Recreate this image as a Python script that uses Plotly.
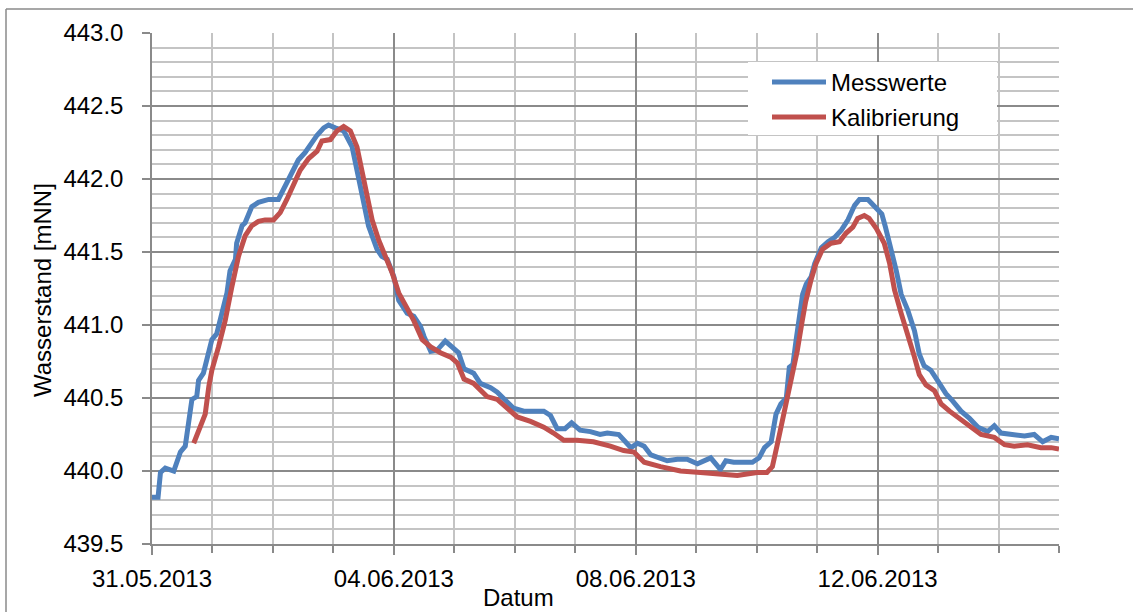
import pandas as pd
import plotly.graph_objects as go

# Wasserstand time series, days after 31.05.2013 00:00
start = pd.Timestamp("2013-05-31")

mess_days = [0.00, 0.10, 0.14, 0.22, 0.36, 0.47, 0.55, 0.61, 0.66, 0.74, 0.77, 0.85, 0.91, 0.99,
             1.07, 1.16, 1.24, 1.29, 1.38, 1.40, 1.49, 1.54, 1.65, 1.76, 1.93, 2.09, 2.20, 2.31,
             2.42, 2.53, 2.64, 2.73, 2.84, 2.92, 3.03, 3.17, 3.31, 3.42, 3.50, 3.58, 3.67, 3.72,
             3.80, 3.89, 4.00, 4.08, 4.22, 4.33, 4.44, 4.50, 4.61, 4.72, 4.85, 4.96, 5.07, 5.16,
             5.32, 5.43, 5.60, 5.71, 5.84, 5.98, 6.15, 6.31, 6.48, 6.59, 6.70, 6.83, 6.94, 7.08,
             7.25, 7.41, 7.53, 7.72, 7.83, 7.92, 8.03, 8.14, 8.25, 8.39, 8.52, 8.69, 8.85, 9.02,
             9.13, 9.24, 9.32, 9.40, 9.49, 9.62, 9.79, 9.93, 10.04, 10.13, 10.24, 10.32, 10.40,
             10.49, 10.54, 10.60, 10.65, 10.71, 10.76, 10.82, 10.90, 10.96, 11.07, 11.18, 11.29,
             11.40, 11.51, 11.62, 11.70, 11.84, 11.95, 12.07, 12.13, 12.22, 12.31, 12.39, 12.50,
             12.61, 12.69, 12.77, 12.88, 12.99, 13.13, 13.24, 13.38, 13.52, 13.66, 13.82, 13.93,
             14.04, 14.26, 14.43, 14.59, 14.73, 14.87, 15.00]
mess_values = [439.82, 439.82, 439.99, 440.02, 440.00, 440.13, 440.17, 440.35, 440.49, 440.51,
               440.62, 440.67, 440.78, 440.90, 440.94, 441.08, 441.22, 441.37, 441.45, 441.56,
               441.68, 441.70, 441.81, 441.84, 441.86, 441.86, 441.95, 442.04, 442.13, 442.18,
               442.25, 442.30, 442.35, 442.37, 442.35, 442.33, 442.22, 442.02, 441.84, 441.68,
               441.58, 441.52, 441.47, 441.45, 441.33, 441.17, 441.08, 441.06, 440.99, 440.92,
               440.82, 440.83, 440.89, 440.85, 440.81, 440.70, 440.67, 440.60, 440.57, 440.54,
               440.49, 440.43, 440.41, 440.41, 440.41, 440.38, 440.29, 440.29, 440.33, 440.28,
               440.27, 440.25, 440.26, 440.25, 440.20, 440.16, 440.19, 440.17, 440.11, 440.09,
               440.07, 440.08, 440.08, 440.05, 440.07, 440.09, 440.05, 440.01, 440.07, 440.06,
               440.06, 440.06, 440.09, 440.16, 440.20, 440.39, 440.46, 440.50, 440.71, 440.73,
               440.89, 441.08, 441.21, 441.28, 441.33, 441.42, 441.53, 441.57, 441.60, 441.65,
               441.72, 441.82, 441.86, 441.86, 441.81, 441.76, 441.67, 441.53, 441.37, 441.21,
               441.10, 440.96, 440.80, 440.72, 440.69, 440.62, 440.53, 440.48, 440.41, 440.36,
               440.30, 440.27, 440.31, 440.26, 440.25, 440.24, 440.25, 440.20, 440.23, 440.22]

kal_days = [0.69, 0.77, 0.88, 0.94, 0.99, 1.10, 1.21, 1.32, 1.43, 1.54, 1.65, 1.76, 1.87, 2.01,
            2.12, 2.23, 2.34, 2.45, 2.59, 2.73, 2.81, 2.95, 3.06, 3.17, 3.28, 3.39, 3.47, 3.55,
            3.64, 3.75, 3.86, 3.97, 4.08, 4.17, 4.33, 4.47, 4.61, 4.77, 4.94, 5.05, 5.16, 5.32,
            5.43, 5.54, 5.71, 5.87, 6.04, 6.26, 6.48, 6.64, 6.81, 7.03, 7.30, 7.58, 7.80, 7.97,
            8.14, 8.41, 8.74, 9.07, 9.40, 9.68, 9.84, 10.01, 10.17, 10.26, 10.34, 10.42, 10.50,
            10.59, 10.67, 10.75, 10.81, 10.90, 10.98, 11.09, 11.23, 11.37, 11.48, 11.59, 11.67,
            11.78, 11.86, 11.98, 12.11, 12.20, 12.28, 12.39, 12.50, 12.61, 12.69, 12.80, 12.94,
            13.05, 13.19, 13.38, 13.55, 13.71, 13.93, 14.10, 14.26, 14.48, 14.70, 14.87, 15.00]
kal_values = [440.19, 440.28, 440.39, 440.58, 440.69, 440.85, 441.03, 441.26, 441.47, 441.61,
              441.68, 441.71, 441.72, 441.72, 441.77, 441.86, 441.97, 442.06, 442.14, 442.19,
              442.26, 442.27, 442.33, 442.36, 442.33, 442.22, 442.06, 441.88, 441.72, 441.58,
              441.47, 441.36, 441.22, 441.15, 441.03, 440.90, 440.85, 440.81, 440.78, 440.74,
              440.63, 440.60, 440.55, 440.51, 440.49, 440.43, 440.37, 440.34, 440.30, 440.26,
              440.21, 440.21, 440.20, 440.17, 440.14, 440.13, 440.06, 440.03, 440.00, 439.99,
              439.98, 439.97, 439.98, 439.99, 439.99, 440.03, 440.18, 440.34, 440.48, 440.64,
              440.82, 441.02, 441.16, 441.31, 441.42, 441.52, 441.56, 441.57, 441.63, 441.67,
              441.73, 441.75, 441.73, 441.66, 441.56, 441.42, 441.24, 441.08, 440.94, 440.78,
              440.66, 440.59, 440.55, 440.46, 440.41, 440.35, 440.30, 440.25, 440.23, 440.18,
              440.17, 440.18, 440.16, 440.16, 440.15]

series_names = ["Messwerte", "Kalibrierung"]
series_colors = ["#4F81BD", "#C0504D"]

x_range = ["2013-05-31", "2013-06-15"]
y_range = [439.5, 443.0]

W, H = 1133, 612
L, R, T, B = 152, 74, 33, 68
PW, PH = W - L - R, H - T - B


def px(xp):
    return (xp - L) / PW


def py(yp):
    return (H - B - yp) / PH


def to_time(days):
    return start + pd.to_timedelta(days, unit="D")


FONT = "Liberation Sans, Arial, sans-serif"
FS = 24
MAJOR = "#8a8a8a"
MINOR = "#c4c4c4"

fig = go.Figure()
fig.add_trace(go.Scatter(x=to_time(mess_days), y=mess_values, mode="lines",
                         name=series_names[0],
                         line=dict(color=series_colors[0], width=5, shape="linear")))
fig.add_trace(go.Scatter(x=to_time(kal_days), y=kal_values, mode="lines",
                         name=series_names[1],
                         line=dict(color=series_colors[1], width=5, shape="linear")))

fig.update_xaxes(
    type="date", range=x_range, tick0="2013-05-31", dtick=4 * 86400000,
    tickformat="%d.%m.%Y", showgrid=True, gridcolor=MAJOR, gridwidth=1.5,
    ticks="outside", ticklen=9, tickcolor=MAJOR, tickwidth=1.5,
    ticklabelstandoff=3,
    showline=True, linecolor=MAJOR, linewidth=1.5, zeroline=False,
    tickfont=dict(family=FONT, size=FS, color="#000000"),
    minor=dict(dtick=86400000, showgrid=True, gridcolor=MINOR, gridwidth=2,
               ticks="outside", ticklen=7, tickcolor=MAJOR, tickwidth=1.5),
)
fig.update_yaxes(
    range=y_range, dtick=0.5, tickformat=".1f", showgrid=True, gridcolor=MAJOR,
    gridwidth=1.5, ticks="outside", ticklen=8, tickcolor=MAJOR, tickwidth=1.5,
    ticklabelstandoff=14,
    showline=True, linecolor=MAJOR, linewidth=1.5, zeroline=False,
    tickfont=dict(family=FONT, size=FS, color="#000000"),
    minor=dict(dtick=0.1, showgrid=True, gridcolor=MINOR, gridwidth=2, ticks=""),
)

shapes = [
    # outer chart frame (left and top edges)
    dict(type="line", xref="paper", yref="paper", x0=px(6), x1=px(6), y0=py(9), y1=py(640),
         line=dict(color=MAJOR, width=1.5), layer="above"),
    dict(type="line", xref="paper", yref="paper", x0=px(6), x1=px(1140), y0=py(9), y1=py(9),
         line=dict(color=MAJOR, width=1.5), layer="above"),
    # legend box
    dict(type="rect", xref="paper", yref="paper", x0=px(748), x1=px(997), y0=py(62), y1=py(135),
         fillcolor="white", line=dict(width=0), layer="above"),
]
annotations = []
for i, (name, color) in enumerate(zip(series_names, series_colors)):
    yc = 82 + i * 35
    shapes.append(dict(type="line", xref="paper", yref="paper", x0=px(772), x1=px(826),
                       y0=py(yc), y1=py(yc), line=dict(color=color, width=5), layer="above"))
    annotations.append(dict(text=name, xref="paper", yref="paper", x=px(829), y=py(yc),
                            xanchor="left", yanchor="middle", showarrow=False,
                            font=dict(family=FONT, size=FS, color="#000000")))

annotations.append(dict(text="Datum", xref="paper", yref="paper", x=px(518), y=py(597),
                        xanchor="center", yanchor="middle", showarrow=False,
                        font=dict(family=FONT, size=FS, color="#000000")))
annotations.append(dict(text="Wasserstand [mNN]", xref="paper", yref="paper", x=px(42),
                        y=py(290), xanchor="center", yanchor="middle", textangle=-90,
                        showarrow=False, font=dict(family=FONT, size=FS, color="#000000")))

fig.update_layout(
    width=W, height=H, margin=dict(l=L, r=R, t=T, b=B),
    paper_bgcolor="white", plot_bgcolor="white", showlegend=False,
    shapes=shapes, annotations=annotations,
)

fig.write_html("out.html")
